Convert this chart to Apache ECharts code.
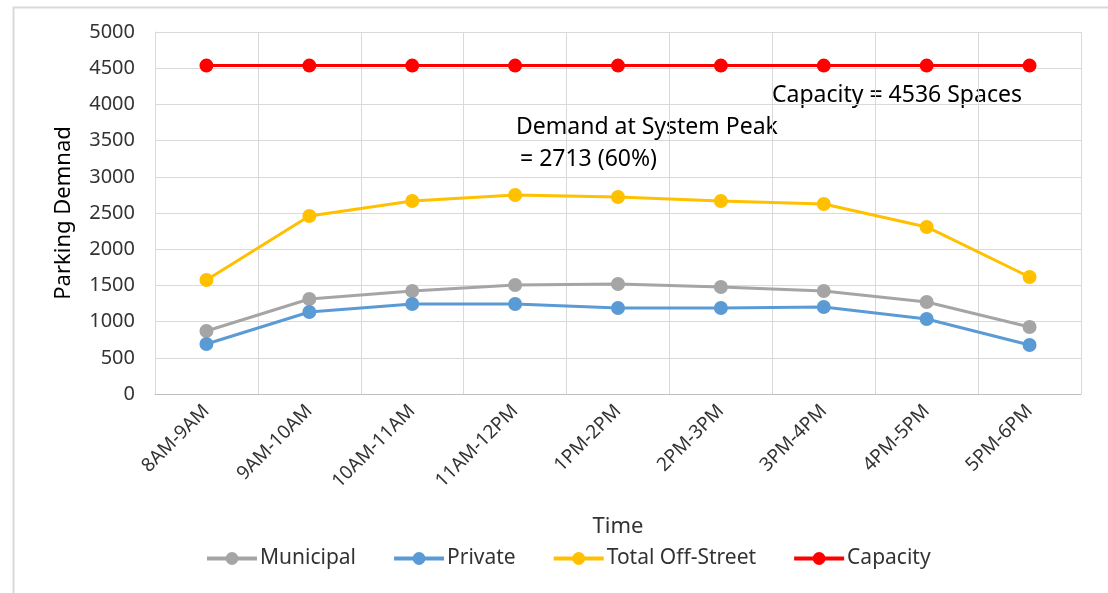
<!DOCTYPE html>
<html>
<head>
<meta charset="utf-8">
<script src="https://cdn.jsdelivr.net/npm/echarts@6/dist/echarts.min.js"></script>
<style>
  html, body { margin: 0; padding: 0; background: #fff; }
  #chart { width: 1108px; height: 593px; }
</style>
</head>
<body>
<div id="chart"></div>
<script>
const categories = ['8AM-9AM', '9AM-10AM', '10AM-11AM', '11AM-12PM', '1PM-2PM', '2PM-3PM', '3PM-4PM', '4PM-5PM', '5PM-6PM'];
const municipal = [870, 1312, 1423, 1505, 1519, 1478, 1423, 1271, 925];
const privateLots = [690, 1133, 1243, 1243, 1188, 1188, 1202, 1036, 677];
const totalOffStreet = [1575, 2459, 2666, 2749, 2721, 2666, 2624, 2307, 1616];
const capacity = [4536, 4536, 4536, 4536, 4536, 4536, 4536, 4536, 4536];

const font = '"Noto Sans", sans-serif';
const textColor = '#333';

const chart = echarts.init(document.getElementById('chart'));

function line(name, data, color) {
  return {
    name: name,
    type: 'line',
    data: data,
    symbol: 'circle',
    symbolSize: 14,
    lineStyle: { width: 3, color: color },
    itemStyle: { color: color },
    animation: false
  };
}

chart.setOption({
  backgroundColor: '#fff',
  textStyle: { fontFamily: font },
  grid: { left: 155, right: 27, top: 32, bottom: 199 },
  legend: {
    bottom: 19,
    left: 200,
    itemWidth: 50,
    itemHeight: 16,
    itemGap: 36,
    lineStyle: { width: 4 },
    textStyle: { fontSize: 21, color: textColor, fontFamily: font, padding: [0, 0, 0, -2] },
    data: ['Municipal', 'Private', 'Total Off-Street', 'Capacity']
  },
  xAxis: {
    type: 'category',
    data: categories,
    boundaryGap: true,
    name: 'Time',
    nameLocation: 'middle',
    nameGap: 122,
    nameTextStyle: { fontSize: 22, color: textColor },
    axisLine: { lineStyle: { color: '#BFBFBF', width: 1 } },
    axisTick: { show: false },
    axisLabel: { rotate: 45, fontSize: 19, color: textColor, margin: 14, interval: 0 },
    splitLine: { show: true, interval: 0, lineStyle: { color: '#D9D9D9' } }
  },
  yAxis: {
    type: 'value',
    min: 0,
    max: 5000,
    interval: 500,
    name: 'Parking Demnad',
    nameLocation: 'middle',
    nameGap: 80,
    nameTextStyle: { fontSize: 22, color: '#000' },
    axisLine: { show: true, lineStyle: { color: '#D9D9D9' } },
    axisTick: { show: false },
    axisLabel: { fontSize: 20, color: textColor, margin: 20, formatter: v => String(v) },
    splitLine: { lineStyle: { color: '#D9D9D9' } }
  },
  graphic: [
    { type: 'rect', left: 11, top: 5, shape: { width: 1200, height: 700 },
      style: { fill: 'none', stroke: '#D9D9D9', lineWidth: 2 }, silent: true },
    { type: 'text', left: 772, top: 84,
      style: { text: 'Capacity = 4536 Spaces', fontSize: 23, fill: '#000', fontFamily: font } },
    { type: 'text', left: 516, top: 116,
      style: { text: 'Demand at System Peak', fontSize: 23, fill: '#000', fontFamily: font } },
    { type: 'text', left: 520, top: 148,
      style: { text: '= 2713 (60%)', fontSize: 23, fill: '#000', fontFamily: font } }
  ],
  series: [
    line('Municipal', municipal, '#A5A5A5'),
    line('Private', privateLots, '#5B9BD5'),
    line('Total Off-Street', totalOffStreet, '#FFC000'),
    line('Capacity', capacity, '#FF0000')
  ]
});
</script>
</body>
</html>
